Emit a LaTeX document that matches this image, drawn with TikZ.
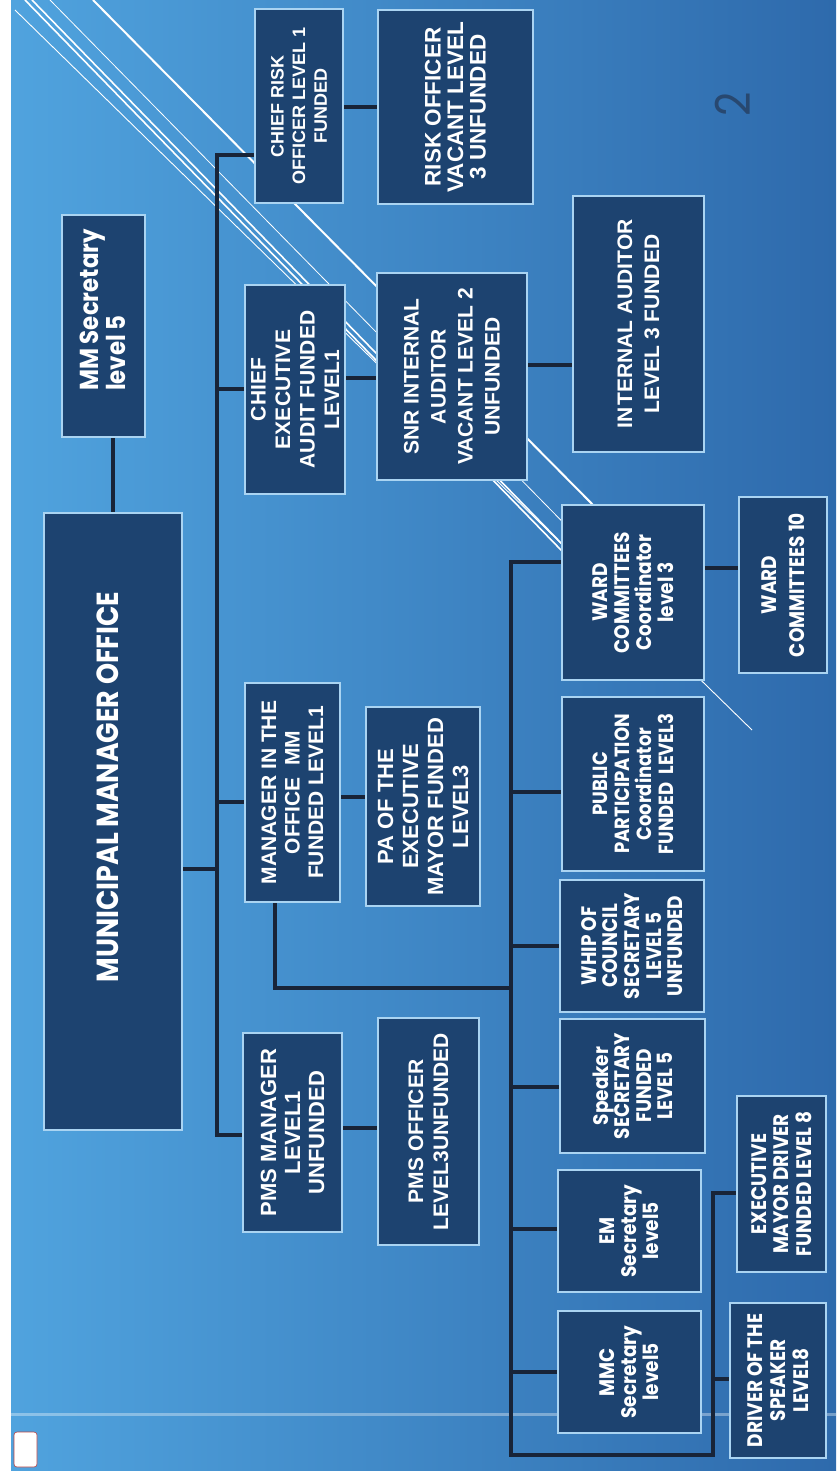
\documentclass[tikz,border=0pt]{standalone}
\usepackage{fontspec}
\setmainfont{Liberation Sans}
\newfontfamily\gothic{Poppins}[FakeStretch=0.88]
\usetikzlibrary{calc}
\pgfdeclarelayer{bg}
\pgfsetlayers{bg,main}

\definecolor{boxfill}{RGB}{29,67,112}
\definecolor{boxedge}{RGB}{170,212,242}
\definecolor{linkcol}{RGB}{24,36,56}
\definecolor{bgleft}{RGB}{80,163,222}
\definecolor{bgmid}{RGB}{62,136,202}
\definecolor{bgright}{RGB}{46,106,172}
\definecolor{pagenum}{RGB}{40,72,112}

\tikzset{
  orgbox/.style={rectangle, draw=boxedge, line width=1.1pt, fill=boxfill, inner sep=0pt},
  orgtext/.style={rotate=90, text=white, align=center, inner sep=0pt},
  fa/.style 2 args={font=\fontsize{#1}{#2}\selectfont\bfseries},
  fg/.style 2 args={font=\gothic\fontsize{#1}{#2}\selectfont\bfseries},
  link/.style={draw=linkcol, line width=3.4pt},
  stripe/.style={draw=white, line width=#1},
}

% box from its corners (x0,y0)-(x1,y1), text centred in it
\newcommand\orgunit[7]{%
  \node[orgbox, minimum width={(#4-#2)*1pt}, minimum height={(#5-#3)*1pt}]
    (#1) at ({(#2+#4)/2},{(#3+#5)/2}) {};
  \node[orgtext, #6] (#1-txt) at (#1.center) {#7};
}

\begin{document}
\begin{tikzpicture}[x=1pt, y=-1pt]
\useasboundingbox (0,0) rectangle (836,1477);

% page and backdrop
\begin{pgfonlayer}{bg}
  \fill[white] (0,0) rectangle (836,1477);
  \shade[left color=bgleft, middle color=bgmid, right color=bgright] (11,0) rectangle (836,1470);
  \draw[stripe=2pt] (93,0) -- (600,512);
  \draw[stripe=1.6pt] (25,0) -- (600,590);
  \draw[stripe=1.6pt] (32,0) -- (600,583);
  \draw[stripe=0.8pt] (50,0) -- (600,560);
  \draw[stripe=0.9pt] (15,10) -- (752,730);
  \draw[white, opacity=0.35, line width=3pt] (11,1414) -- (836,1414);
  \draw[fill=white, draw=red!45!gray, rounded corners=3pt, line width=0.6pt] (14,1432) rectangle (37,1467);
\end{pgfonlayer}

\node[rotate=90, text=pagenum, font=\gothic\fontsize{48}{48}\selectfont] (pageno) at (733,104) {2};

% top of the office
\node[orgbox, minimum width=83pt, minimum height=222pt] (mms) at (103.5,326) {};
\node[orgtext, fg={26}{25}, align=left] (mms-txt) at (103,310) {MM Secretary\\level 5};
\node[orgbox, minimum width=138pt, minimum height=617pt] (mmo) at (113,821.5) {};
\node[orgtext, fg={30.5}{30}] (mmo-txt) at (108,787) {MUNICIPAL MANAGER OFFICE};

% risk and audit
\orgunit{cro}{255}{9}{343}{203}{fa={18}{21.7}}{CHIEF RISK\\OFFICER LEVEL 1\\FUNDED}
\orgunit{ro}{378}{10}{533}{204}{fa={22.5}{22.5}}{RISK OFFICER\\VACANT LEVEL\\3 UNFUNDED}
\orgunit{cea}{245}{285}{345}{494}{fa={21}{24.5}}{CHIEF\\EXECUTIVE\\AUDIT FUNDED\\LEVEL1}
\orgunit{snr}{377}{273}{527}{480}{fa={21}{27}}{SNR INTERNAL\\AUDITOR\\VACANT LEVEL 2\\UNFUNDED}
\orgunit{ia}{573}{196}{704}{452}{fa={21}{27}}{IN\kern2pt TERNAL AUDITOR\\LEVEL 3 FUNDED}

% office of the MM and PMS
\orgunit{mio}{245}{683}{340}{902}{fa={21}{23.5}}{MANAGER IN THE\\OFFICE\ \ MM\\FUNDED LEVEL1}
\orgunit{pa}{366}{707}{480}{906}{fa={22}{25}}{PA OF THE\\EXECUTIVE\\MAYOR FUNDED\\LEVEL3}
\orgunit{pmsm}{243}{1033}{342}{1232}{fa={22}{24}}{PMS MANAGER\\LEVEL1\\UNFUNDED}
\orgunit{pmso}{378}{1018}{479}{1245}{fa={21}{25}}{PMS OFFICER\\LEVEL3UNFUNDED}

% council support
\orgunit{wcc}{562}{505}{704}{680}{fg={21}{22}}{WARD\\COMMITTEES\\Coordinator\\level 3}
\orgunit{wc10}{739}{497}{827}{673}{fg={21}{28}}{WARD\\COMMITTEES 10}
\orgunit{ppc}{562}{697}{704}{871}{fg={20.5}{22}}{PUBLIC\\PARTICIPATION\\Coordinator\\FUNDED\ \ LEVEL3}
\orgunit{whip}{560}{880}{704}{1012}{fg={21}{21.7}}{WHIP OF\\COUNCIL\\SECRETARY\\LEVEL 5\\UNFUNDED}
\orgunit{spk}{560}{1019}{705}{1153}{fg={21}{21.5}}{Speaker\\SECRETARY\\FUNDED\\LEVEL 5}
\orgunit{em}{558}{1170}{701}{1292}{fg={21}{22}}{EM\\Secretary\\level5}
\orgunit{mmc}{558}{1311}{701}{1433}{fg={21}{22}}{MMC\\Secretary\\level5}
\orgunit{emd}{737}{1096}{826}{1272}{fg={21}{22.5}}{EXECUTIVE\\MAYOR DRIVER\\FUNDED LEVEL 8}
\orgunit{dos}{730}{1303}{826}{1458}{fg={21}{23}}{DRIVER OF THE\\SPEAKER\\LEVEL8}

% connectors
\coordinate (k0) at (113,0);
\coordinate (j1) at (217,155);
\coordinate (j5) at (217,1135);
\coordinate (s1) at (511,562);
\coordinate (s2) at (511,1455);
\coordinate (s3) at (713,1455);
\coordinate (s4) at (713,1193);
\coordinate (m1) at (275,988);

\begin{pgfonlayer}{bg}
  \draw[link] (mms.south -| k0) -- (mmo.north -| k0);
  \draw[link] (cro.west |- j1) -- (j1) -- (j5) -- (pmsm.west |- j5);
  \draw[link] (mmo.east |- 0,869) -- (j1 |- 0,869);
  \draw[link] (j1 |- 0,389) -- (cea.west |- 0,389);
  \draw[link] (j1 |- 0,802) -- (mio.west |- 0,802);
  \draw[link] (cro.east |- 0,107) -- (ro.west |- 0,107);
  \draw[link] (cea.east |- 0,378) -- (snr.west |- 0,378);
  \draw[link] (snr.east |- 0,365) -- (ia.west |- 0,365);
  \draw[link] (mio.east |- 0,797) -- (pa.west |- 0,797);
  \draw[link] (pmsm.east |- 0,1128) -- (pmso.west |- 0,1128);
  \draw[link] (wcc.east |- 0,568) -- (wc10.west |- 0,568);
  \draw[link] (wcc.west |- s1) -- (s1) -- (s2) -- (s3) -- (s4) -- (emd.west |- s4);
  \draw[link] (mio.south -| m1) -- (m1) -- (s1 |- m1);
  \draw[link] (s1 |- 0,792) -- (ppc.west |- 0,792);
  \draw[link] (s1 |- 0,946) -- (whip.west |- 0,946);
  \draw[link] (s1 |- 0,1087) -- (spk.west |- 0,1087);
  \draw[link] (s1 |- 0,1229) -- (em.west |- 0,1229);
  \draw[link] (s1 |- 0,1372) -- (mmc.west |- 0,1372);
  \draw[link] (s3 |- 0,1379) -- (dos.west |- 0,1379);
\end{pgfonlayer}
\end{tikzpicture}
\end{document}
